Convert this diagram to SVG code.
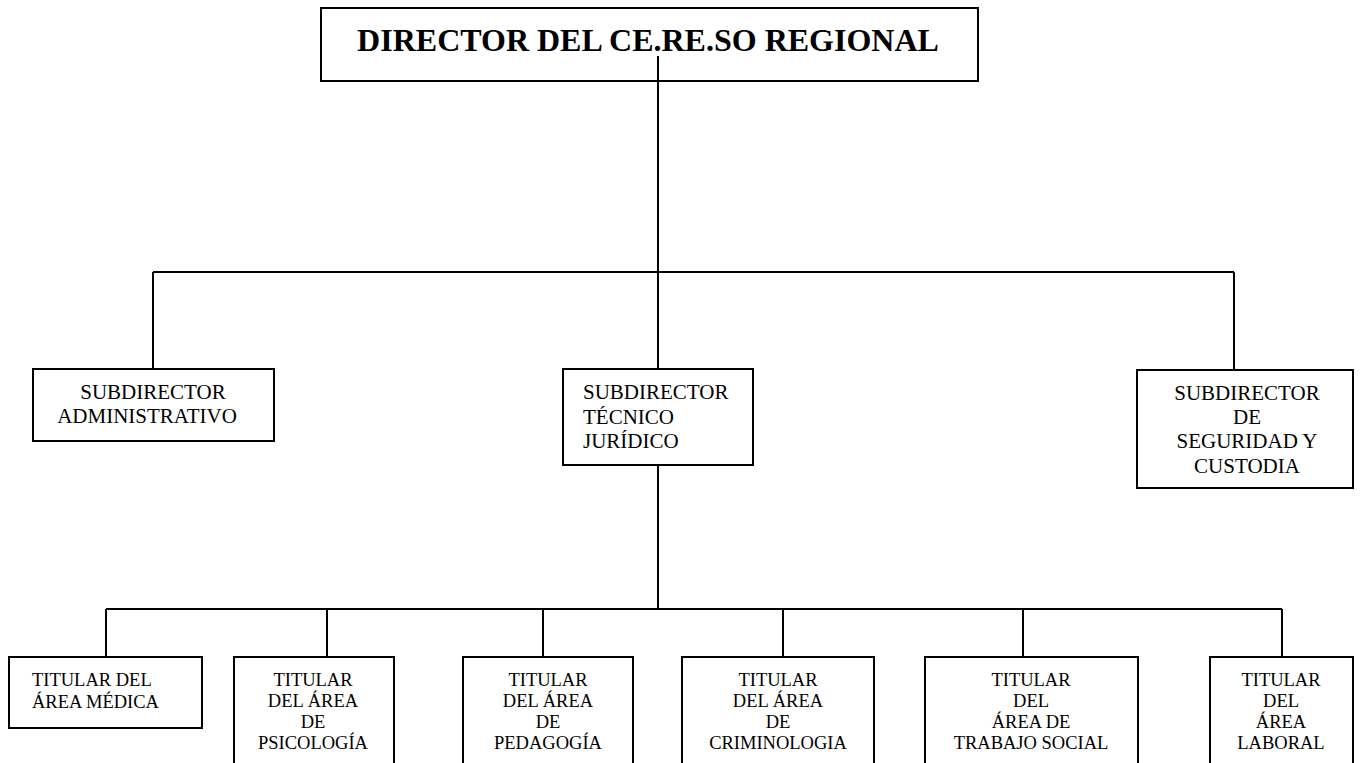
<svg xmlns="http://www.w3.org/2000/svg" width="1362" height="763" viewBox="0 0 1362 763">
<style>
.box{fill:#fff;stroke:#000;stroke-width:2}
.ln{fill:none;stroke:#000;stroke-width:2}
text{font-family:"Liberation Serif","Times New Roman",serif;fill:#000}
.t1{font-size:32px;font-weight:bold;text-anchor:middle}
.t2{font-size:21px}
.t3{font-size:18.5px}
.c{text-anchor:middle}
</style>
<rect width="1362" height="763" fill="#fff"/>
<g id="director">
<rect class="box" x="321" y="8" width="657" height="73"/>
<text class="t1" x="648" y="51">DIRECTOR DEL CE.RE.SO REGIONAL</text>
</g>
<g id="connectors">
<path class="ln" d="M658 56V272M153 272H1234M153 272V369M658 272V369M1234 272V370"/>
<path class="ln" d="M658 465V609M106 609H1282M106 609V657M327 609V657M543 609V657M783 609V657M1023 609V657M1282 609V657"/>
</g>
<g id="sub-admin">
<rect class="box" x="33" y="369" width="241" height="72"/>
<text class="t2 c" x="153" y="399">SUBDIRECTOR</text>
<text class="t2 c" x="147" y="423">ADMINISTRATIVO</text>
</g>
<g id="sub-tecnico">
<rect class="box" x="563" y="369" width="190" height="96"/>
<text class="t2" x="583" y="399">SUBDIRECTOR</text>
<text class="t2" x="583" y="424">TÉCNICO</text>
<text class="t2" x="583" y="448">JURÍDICO</text>
</g>
<g id="sub-seguridad">
<rect class="box" x="1137" y="370" width="216" height="118"/>
<text class="t2 c" x="1247" y="400">SUBDIRECTOR</text>
<text class="t2 c" x="1247" y="424">DE</text>
<text class="t2 c" x="1247" y="448">SEGURIDAD Y</text>
<text class="t2 c" x="1247" y="473">CUSTODIA</text>
</g>
<g id="area-medica">
<rect class="box" x="9" y="657" width="193" height="71"/>
<text class="t3" x="32" y="686">TITULAR DEL</text>
<text class="t3" x="32" y="708">ÁREA MÉDICA</text>
</g>
<g id="area-psicologia">
<rect class="box" x="234" y="657" width="160" height="120"/>
<text class="t3 c" x="313" y="686">TITULAR</text>
<text class="t3 c" x="313" y="707">DEL ÁREA</text>
<text class="t3 c" x="313" y="728">DE</text>
<text class="t3 c" x="313" y="749">PSICOLOGÍA</text>
</g>
<g id="area-pedagogia">
<rect class="box" x="463" y="657" width="170" height="120"/>
<text class="t3 c" x="548" y="686">TITULAR</text>
<text class="t3 c" x="548" y="707">DEL ÁREA</text>
<text class="t3 c" x="548" y="728">DE</text>
<text class="t3 c" x="548" y="749">PEDAGOGÍA</text>
</g>
<g id="area-criminologia">
<rect class="box" x="682" y="657" width="192" height="120"/>
<text class="t3 c" x="778" y="686">TITULAR</text>
<text class="t3 c" x="778" y="707">DEL ÁREA</text>
<text class="t3 c" x="778" y="728">DE</text>
<text class="t3 c" x="778" y="749">CRIMINOLOGIA</text>
</g>
<g id="area-trabajo-social">
<rect class="box" x="925" y="657" width="213" height="120"/>
<text class="t3 c" x="1031" y="686">TITULAR</text>
<text class="t3 c" x="1031" y="707">DEL</text>
<text class="t3 c" x="1031" y="728">ÁREA DE</text>
<text class="t3 c" x="1031" y="749">TRABAJO SOCIAL</text>
</g>
<g id="area-laboral">
<rect class="box" x="1210" y="657" width="143" height="120"/>
<text class="t3 c" x="1281" y="686">TITULAR</text>
<text class="t3 c" x="1281" y="707">DEL</text>
<text class="t3 c" x="1281" y="728">ÁREA</text>
<text class="t3 c" x="1281" y="749">LABORAL</text>
</g>
</svg>
